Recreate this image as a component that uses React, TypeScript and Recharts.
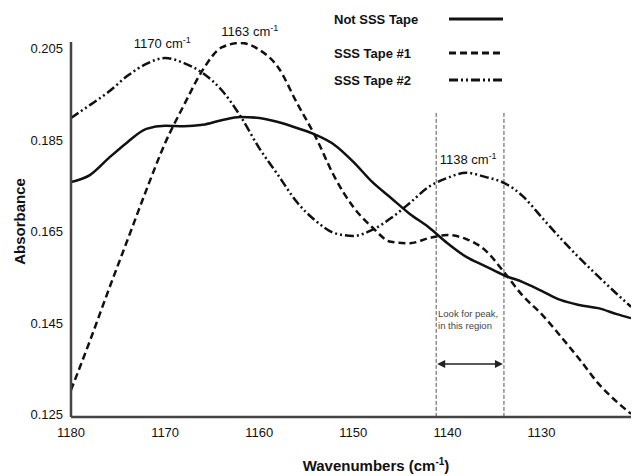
import React from "react";
import {
  LineChart,
  Line,
  XAxis,
  YAxis,
  Legend,
  ReferenceLine,
  ReferenceDot,
} from "recharts";

// wavenumber grid (cm-1), every 2 cm-1
const wavenumbers = [
  1180, 1178, 1176, 1174, 1172, 1170, 1168, 1166, 1164, 1162, 1160, 1158, 1156, 1154, 1152, 1150,
  1148, 1146, 1144, 1142, 1140, 1138, 1136, 1134, 1132, 1130, 1128, 1126, 1124, 1122, 1120.5,
];

const notSSS = [
  0.1759, 0.1774, 0.1811, 0.1846, 0.1875, 0.1882, 0.1881, 0.1884, 0.1894, 0.1901, 0.1899, 0.189,
  0.1877, 0.1862, 0.184, 0.1803, 0.1759, 0.1724, 0.1689, 0.166, 0.1625, 0.1595, 0.1575, 0.1555,
  0.154, 0.1521, 0.1501, 0.149, 0.1483, 0.147, 0.1461,
];

const sssTape1 = [
  0.1304, 0.1411, 0.1523, 0.1632, 0.1741, 0.1844, 0.1927, 0.2004, 0.2053, 0.2063, 0.2048, 0.201,
  0.1932, 0.1857, 0.177, 0.1704, 0.166, 0.1628, 0.1625, 0.1636, 0.1643, 0.1634, 0.161, 0.1562,
  0.151, 0.147, 0.1422, 0.1372, 0.1319, 0.1278, 0.1252,
];

const sssTape2 = [
  0.1899, 0.1927, 0.1956, 0.1991, 0.2017, 0.203, 0.2019, 0.1997, 0.196, 0.1903, 0.1833, 0.1774,
  0.1715, 0.1674, 0.1647, 0.1641, 0.1654, 0.168, 0.1713, 0.1748, 0.1768, 0.1779, 0.177, 0.1757,
  0.1728, 0.1682, 0.1636, 0.1593, 0.1553, 0.1514, 0.1486,
];

const xTicks = [1180, 1170, 1160, 1150, 1140, 1130];
const yTicks = [0.125, 0.145, 0.165, 0.185, 0.205];

// peak annotations
const peakNames = ["1170", "1163", "1138"];
const peakAt = [
  { x: 1170.3, y: 0.2061 },
  { x: 1161.0, y: 0.2089 },
  { x: 1137.8, y: 0.1809 },
];

// "look for peak" window
const regionFrom = 1141.2;
const regionTo = 1134.0;
const regionTop = 0.191;
const regionArrowY = 0.1361;
const regionNote = ["Look for peak,", "in this region"];
const regionNoteAt = { x: 1141.0, y: 0.1472 };

const data = wavenumbers.map((x, i) => ({
  x,
  notSSS: notSSS[i],
  tape1: sssTape1[i],
  tape2: sssTape2[i],
}));

const dashes: Record<string, string | undefined> = {
  "Not SSS Tape": undefined,
  "SSS Tape #1": "7 4",
  "SSS Tape #2": "9 3 2 3 2 3",
};

const ink = "#111";
const font = "'Liberation Sans', Arial, sans-serif";

function LegendBox({ payload }: any) {
  const items = payload || [];
  const rowY = [19, 53, 80];
  return (
    <svg width={200} height={95} style={{ display: "block" }}>
      {items.map((it: any, i: number) => (
        <g key={it.value}>
          <text x={4} y={rowY[i]} dy="0.35em" fontSize={13} fontWeight="bold" fill={ink} fontFamily={font}>
            {it.value}
          </text>
          <line
            x1={119}
            x2={173}
            y1={rowY[i]}
            y2={rowY[i]}
            stroke={ink}
            strokeWidth={2.8}
            strokeDasharray={dashes[it.value]}
          />
        </g>
      ))}
    </svg>
  );
}

function PeakLabel(name: string) {
  return (p: any) => (
    <text x={p.cx} y={p.cy} dy="0.35em" textAnchor="middle" fontSize={13} fill={ink} fontFamily={font}>
      {name} cm
      <tspan fontSize={9} dy={-5}>
        -1
      </tspan>
    </text>
  );
}

function NoteLabel(p: any) {
  return (
    <text x={p.cx} y={p.cy} fontSize={9.5} fill="#444" fontFamily={font}>
      {regionNote.map((t, i) => (
        <tspan key={t} x={p.cx} dy={i === 0 ? "0.35em" : 12.5}>
          {t}
        </tspan>
      ))}
    </text>
  );
}

function DoubleArrow(p: any) {
  const { x1, y1, x2 } = p;
  const left = Math.min(x1, x2);
  const right = Math.max(x1, x2);
  return (
    <g>
      <line x1={left + 6} x2={right - 6} y1={y1} y2={y1} stroke="#222" strokeWidth={1.5} />
      <polygon points={`${left + 1},${y1} ${left + 9},${y1 - 4} ${left + 9},${y1 + 4}`} fill="#222" />
      <polygon points={`${right - 1},${y1} ${right - 9},${y1 - 4} ${right - 9},${y1 + 4}`} fill="#222" />
    </g>
  );
}

function XTitle(p: any) {
  const vb = p.viewBox;
  return (
    <text x={vb.x + vb.width / 2 + 25} y={vb.y + 49} dy="0.35em" textAnchor="middle" fontSize={15} fontWeight="bold" fill={ink} fontFamily={font}>
      Wavenumbers (cm
      <tspan fontSize={10} dy={-6}>
        -1
      </tspan>
      <tspan dy={6}>)</tspan>
    </text>
  );
}

function YTitle(p: any) {
  const vb = p.viewBox;
  const cx = 20;
  const cy = vb.y + vb.height / 2 - 8;
  return (
    <text
      x={cx}
      y={cy}
      dy="0.35em"
      textAnchor="middle"
      transform={`rotate(-90 ${cx} ${cy})`}
      fontSize={15}
      fontWeight="bold"
      fill={ink}
      fontFamily={font}
    >
      Absorbance
    </text>
  );
}

export default function App() {
  return (
    <div style={{ position: "absolute", left: 0, top: 0, fontFamily: font, background: "#fff" }}>
      <LineChart width={632} height={476} data={data} margin={{ top: 42, right: 1, left: 0, bottom: 0 }}>
        <XAxis
          dataKey="x"
          type="number"
          domain={[1120.5, 1180]}
          reversed
          allowDataOverflow
          ticks={xTicks}
          tickLine={false}
          tickSize={6}
          tickMargin={5}
          height={59}
          axisLine={{ stroke: "#444", strokeWidth: 2.5 }}
          tick={{ fill: ink, fontSize: 13 }}
          label={{ content: XTitle }}
        />
        <YAxis
          type="number"
          domain={[0.1245, 0.2065]}
          allowDataOverflow
          ticks={yTicks}
          tickFormatter={(v: number) => v.toFixed(3)}
          tickLine={false}
          tickSize={6}
          tickMargin={2}
          width={71}
          axisLine={{ stroke: "#444", strokeWidth: 2.5 }}
          tick={{ fill: ink, fontSize: 13 }}
          label={{ content: YTitle }}
        />
        <Legend
          layout="vertical"
          align="center"
          verticalAlign="middle"
          wrapperStyle={{ top: 0, left: 330, width: 200 }}
          content={LegendBox}
        />

        <ReferenceLine
          segment={[{ x: regionFrom, y: regionTop }, { x: regionFrom, y: 0.1245 }]}
          stroke="#555"
          strokeWidth={1}
          strokeDasharray="4 2"
          ifOverflow="visible"
        />
        <ReferenceLine
          segment={[{ x: regionTo, y: regionTop }, { x: regionTo, y: 0.1245 }]}
          stroke="#555"
          strokeWidth={1}
          strokeDasharray="4 2"
          ifOverflow="visible"
        />
        <ReferenceLine
          segment={[{ x: regionFrom, y: regionArrowY }, { x: regionTo, y: regionArrowY }]}
          shape={DoubleArrow}
          ifOverflow="visible"
        />
        <ReferenceDot x={regionNoteAt.x} y={regionNoteAt.y} r={0} ifOverflow="visible" shape={NoteLabel} />
        {peakNames.map((n, i) => (
          <ReferenceDot key={n} x={peakAt[i].x} y={peakAt[i].y} r={0} ifOverflow="visible" shape={PeakLabel(n)} />
        ))}

        <Line
          name="Not SSS Tape"
          dataKey="notSSS"
          type="monotone"
          stroke={ink}
          strokeWidth={2.5}
          dot={false}
          isAnimationActive={false}
        />
        <Line
          name="SSS Tape #1"
          dataKey="tape1"
          type="monotone"
          stroke={ink}
          strokeWidth={2.5}
          strokeDasharray={dashes["SSS Tape #1"]}
          dot={false}
          isAnimationActive={false}
        />
        <Line
          name="SSS Tape #2"
          dataKey="tape2"
          type="monotone"
          stroke={ink}
          strokeWidth={2.5}
          strokeDasharray={dashes["SSS Tape #2"]}
          dot={false}
          isAnimationActive={false}
        />
      </LineChart>
    </div>
  );
}
